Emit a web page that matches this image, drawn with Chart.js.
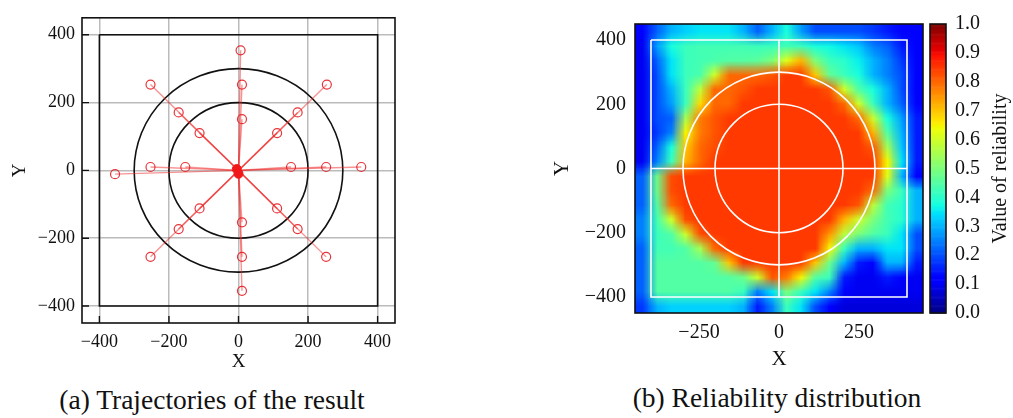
<!DOCTYPE html>
<html>
<head>
<meta charset="utf-8">
<script src="https://cdn.jsdelivr.net/npm/chart.js@4.4.1/dist/chart.umd.min.js"></script>
<style>
  html, body { margin: 0; padding: 0; background: #fff; }
  body { width: 1013px; height: 418px; position: relative; overflow: hidden;
         font-family: "Liberation Serif", "Times New Roman", serif; color: #111; }
  .box { position: absolute; }
  .caption { position: absolute; font-size: 27.5px; line-height: 1; white-space: nowrap; transform: translateX(-50%); }
</style>
</head>
<body>
<div class="box" style="left:0;top:0;width:420px;height:380px"><canvas id="traj"></canvas></div>
<div class="box" style="left:540px;top:0;width:390px;height:380px"><canvas id="heat"></canvas></div>
<div class="box" style="left:925px;top:0;width:88px;height:340px"><canvas id="cbar"></canvas></div>
<div class="caption" style="left:212px;top:386px">(a) Trajectories of the result</div>
<div class="caption" style="left:777px;top:384px">(b) Reliability distribution</div>

<script>
// ---- data ----
const axisTicks = [-400, -200, 0, 200, 400];
const heatXTicks = [-250, 0, 250];
const barTicks = [0, 0.1, 0.2, 0.3, 0.4, 0.5, 0.6, 0.7, 0.8, 0.9, 1.0];

// end points of the trajectories (hollow markers)
const targetX = [6, 10, 10, -253, -172, -112, 254, 170, 111, -355, -253, -153, 151, 252, 353, -112, -172, -253, 111, 170, 252, 10, 10, 10];
const targetY = [354, 253, 151, 253, 171, 110, 253, 171, 110, -11, 10, 10, 10, 10, 10, -112, -173, -255, -112, -173, -255, -153, -255, -355];
// filled start blobs at the centre
const hubX = [-5, 0];
const hubY = [4, -10];

// reference shapes
const squareX = [-400, 400, 400, -400, -400];
const squareY = [400, 400, -400, -400, 400];
const ringRadii = [200, 300];
const crossVX = [0, 0], crossVY = [-400, 400];
const crossHX = [-400, 400], crossHY = [0, 0];

// reliability map, rows from top (y=450) to bottom (y=-450), cols from x=-450 to 450
const heatRange = [-450, 450];
const reliability = [
  [0.12, 0.22, 0.30, 0.33, 0.35, 0.35, 0.35, 0.30, 0.22, 0.30, 0.38, 0.28, 0.20, 0.20, 0.20, 0.20, 0.18, 0.15, 0.12, 0.12],
  [0.10, 0.28, 0.38, 0.42, 0.43, 0.43, 0.43, 0.43, 0.42, 0.42, 0.43, 0.42, 0.38, 0.37, 0.35, 0.32, 0.25, 0.22, 0.15, 0.12],
  [0.10, 0.22, 0.35, 0.42, 0.43, 0.44, 0.45, 0.45, 0.46, 0.50, 0.62, 0.72, 0.50, 0.42, 0.40, 0.36, 0.30, 0.25, 0.18, 0.12],
  [0.10, 0.20, 0.35, 0.42, 0.44, 0.60, 0.80, 0.80, 0.80, 0.82, 0.85, 0.85, 0.70, 0.47, 0.42, 0.38, 0.30, 0.25, 0.20, 0.12],
  [0.10, 0.20, 0.30, 0.42, 0.58, 0.80, 0.80, 0.82, 0.85, 0.85, 0.85, 0.85, 0.85, 0.82, 0.60, 0.45, 0.38, 0.30, 0.20, 0.12],
  [0.10, 0.20, 0.28, 0.42, 0.68, 0.80, 0.80, 0.85, 0.85, 0.85, 0.85, 0.85, 0.85, 0.85, 0.80, 0.60, 0.42, 0.30, 0.22, 0.12],
  [0.10, 0.20, 0.22, 0.55, 0.78, 0.82, 0.85, 0.85, 0.85, 0.85, 0.85, 0.85, 0.85, 0.85, 0.85, 0.80, 0.60, 0.38, 0.28, 0.15],
  [0.10, 0.18, 0.25, 0.65, 0.78, 0.82, 0.85, 0.85, 0.85, 0.85, 0.85, 0.85, 0.85, 0.85, 0.85, 0.85, 0.72, 0.45, 0.30, 0.15],
  [0.10, 0.22, 0.38, 0.70, 0.80, 0.83, 0.85, 0.85, 0.85, 0.85, 0.85, 0.85, 0.85, 0.85, 0.85, 0.85, 0.82, 0.55, 0.32, 0.15],
  [0.10, 0.25, 0.42, 0.72, 0.80, 0.85, 0.85, 0.85, 0.85, 0.85, 0.85, 0.85, 0.85, 0.85, 0.85, 0.85, 0.85, 0.65, 0.35, 0.15],
  [0.22, 0.48, 0.83, 0.85, 0.85, 0.85, 0.85, 0.85, 0.85, 0.85, 0.85, 0.85, 0.85, 0.85, 0.85, 0.85, 0.85, 0.62, 0.30, 0.12],
  [0.22, 0.48, 0.83, 0.85, 0.85, 0.85, 0.85, 0.85, 0.85, 0.85, 0.85, 0.85, 0.85, 0.85, 0.85, 0.85, 0.80, 0.50, 0.42, 0.30],
  [0.22, 0.45, 0.80, 0.85, 0.85, 0.85, 0.85, 0.85, 0.85, 0.85, 0.85, 0.85, 0.85, 0.85, 0.85, 0.82, 0.58, 0.43, 0.40, 0.30],
  [0.25, 0.43, 0.60, 0.83, 0.85, 0.85, 0.85, 0.85, 0.85, 0.85, 0.85, 0.85, 0.85, 0.85, 0.72, 0.60, 0.50, 0.43, 0.40, 0.30],
  [0.25, 0.42, 0.45, 0.60, 0.83, 0.85, 0.85, 0.85, 0.85, 0.85, 0.85, 0.85, 0.85, 0.75, 0.58, 0.50, 0.45, 0.42, 0.35, 0.20],
  [0.22, 0.43, 0.43, 0.45, 0.55, 0.80, 0.85, 0.85, 0.85, 0.85, 0.85, 0.85, 0.85, 0.65, 0.42, 0.30, 0.30, 0.35, 0.35, 0.20],
  [0.22, 0.45, 0.45, 0.45, 0.45, 0.47, 0.70, 0.85, 0.85, 0.85, 0.85, 0.85, 0.70, 0.48, 0.30, 0.15, 0.12, 0.30, 0.30, 0.15],
  [0.22, 0.45, 0.45, 0.45, 0.45, 0.45, 0.45, 0.48, 0.60, 0.82, 0.78, 0.65, 0.45, 0.42, 0.15, 0.10, 0.10, 0.15, 0.12, 0.10],
  [0.22, 0.45, 0.45, 0.45, 0.45, 0.45, 0.45, 0.42, 0.25, 0.35, 0.50, 0.42, 0.35, 0.25, 0.12, 0.10, 0.10, 0.10, 0.10, 0.10],
  [0.18, 0.30, 0.33, 0.33, 0.33, 0.33, 0.33, 0.30, 0.15, 0.25, 0.42, 0.35, 0.20, 0.12, 0.08, 0.08, 0.08, 0.08, 0.08, 0.08],
];

// ---- helpers ----
const SERIF = "'Liberation Serif', 'Times New Roman', serif";
Chart.defaults.font.family = SERIF;
Chart.defaults.color = "#111";

const minus = (v) => (v < 0 ? "\u2212" + Math.abs(v) : String(v));
const pts = (xs, ys) => xs.map((x, i) => ({ x, y: ys[i] }));

// matplotlib "jet"
function seg(v, s) {
  for (let i = 1; i < s.length; i++) {
    if (v <= s[i][0]) {
      const [x0, y0] = s[i - 1], [x1, y1] = s[i];
      return y0 + (y1 - y0) * (v - x0) / (x1 - x0);
    }
  }
  return s[s.length - 1][1];
}
function jet(v) {
  v = Math.max(0, Math.min(1, v));
  const r = seg(v, [[0, 0], [0.35, 0], [0.66, 1], [0.89, 1], [1, 0.5]]);
  const g = seg(v, [[0, 0], [0.125, 0], [0.375, 1], [0.64, 1], [0.91, 0], [1, 0]]);
  const b = seg(v, [[0, 0.5], [0.11, 1], [0.34, 1], [0.65, 0], [1, 0]]);
  return [Math.round(r * 255), Math.round(g * 255), Math.round(b * 255)];
}

const framePlugin = {
  id: "frame",
  afterDraw(chart) {
    const { ctx, chartArea: a } = chart;
    ctx.save();
    ctx.strokeStyle = "#111";
    ctx.lineWidth = 1.6;
    ctx.strokeRect(a.left, a.top, a.right - a.left, a.bottom - a.top);
    ctx.restore();
  },
};

function ringsPlugin(color, when) {
  return {
    id: "rings",
    [when](chart) {
      const { ctx, scales: { x, y } } = chart;
      const cx = x.getPixelForValue(0), cy = y.getPixelForValue(0);
      ctx.save();
      ctx.strokeStyle = color;
      ctx.lineWidth = 1.6;
      ringRadii.forEach((r) => {
        ctx.beginPath();
        ctx.ellipse(cx, cy, Math.abs(x.getPixelForValue(r) - cx), Math.abs(y.getPixelForValue(r) - cy), 0, 0, Math.PI * 2);
        ctx.stroke();
      });
      ctx.restore();
    },
  };
}

// short tick marks pointing into the plot
const inTicksPlugin = {
  id: "inTicks",
  afterDatasetsDraw(chart) {
    const { ctx, chartArea: a, scales: { x, y } } = chart;
    ctx.save();
    ctx.strokeStyle = "#111";
    ctx.lineWidth = 1.4;
    ctx.beginPath();
    axisTicks.forEach((v) => {
      const px = x.getPixelForValue(v);
      ctx.moveTo(px, a.bottom); ctx.lineTo(px, a.bottom - 7);
      const py = y.getPixelForValue(v);
      ctx.moveTo(a.left, py); ctx.lineTo(a.left + 7, py);
    });
    ctx.stroke();
    ctx.restore();
  },
};

function fixedTicks(list) {
  return (scale) => { scale.ticks = list.map((v) => ({ value: v })); };
}

// ---- (a) trajectories ----
const trajSets = targetX.map((tx, i) => ({
  data: [{ x: 0, y: 0 }, { x: tx, y: targetY[i] }],
  showLine: true,
  borderColor: "rgba(240,40,40,0.5)",
  borderWidth: 1.4,
  pointRadius: [0, 4.5],
  pointBorderColor: "rgba(228,30,36,0.9)",
  pointBackgroundColor: "rgba(0,0,0,0)",
  pointBorderWidth: 1.2,
}));

new Chart(document.getElementById("traj"), {
  type: "scatter",
  data: {
    datasets: [
      { data: pts(hubX, hubY), pointRadius: 4.5, pointBackgroundColor: "#f01818", pointBorderColor: "#f01818" },
      ...trajSets,
      { data: pts(squareX, squareY), showLine: true, borderColor: "#111", borderWidth: 1.6, pointRadius: 0 },
    ],
  },
  options: {
    responsive: true, maintainAspectRatio: false, animation: false,
    layout: { padding: { left: 9, top: 10, right: 25, bottom: 7 } },
    plugins: { legend: { display: false }, tooltip: { enabled: false } },
    scales: {
      x: {
        type: "linear", min: -450, max: 450,
        afterBuildTicks: fixedTicks(axisTicks),
        afterFit: (s) => { s.height = 50; },
        grid: { color: "rgba(120,120,120,0.5)", lineWidth: 1.5, drawTicks: false },
        border: { display: false },
        ticks: { font: { size: 18 }, padding: 8, callback: minus },
        title: { display: true, text: "X", font: { size: 19 }, padding: 0 },
      },
      y: {
        type: "linear", min: -450, max: 450,
        afterBuildTicks: fixedTicks(axisTicks),
        afterFit: (s) => { s.width = 73; },
        grid: { color: "rgba(120,120,120,0.5)", lineWidth: 1.5, drawTicks: false },
        border: { display: false },
        ticks: { font: { size: 18 }, padding: 7, callback: minus },
        title: { display: true, text: "Y", font: { size: 19 }, padding: 0 },
      },
    },
  },
  plugins: [ringsPlugin("#111", "beforeDatasetsDraw"), inTicksPlugin, framePlugin],
});

// ---- (b) reliability distribution ----
const heatPlugin = {
  id: "heatmap",
  beforeDatasetsDraw(chart) {
    const { ctx, chartArea: a, scales: { x, y } } = chart;
    const rows = reliability.length, cols = reliability[0].length;
    const off = document.createElement("canvas");
    off.width = cols; off.height = rows;
    const octx = off.getContext("2d");
    const img = octx.createImageData(cols, rows);
    reliability.forEach((row, j) => row.forEach((v, i) => {
      const [r, g, b] = jet(v);
      const k = (j * cols + i) * 4;
      img.data[k] = r; img.data[k + 1] = g; img.data[k + 2] = b; img.data[k + 3] = 255;
    }));
    octx.putImageData(img, 0, 0);
    const left = x.getPixelForValue(heatRange[0]), right = x.getPixelForValue(heatRange[1]);
    const top = y.getPixelForValue(heatRange[1]), bottom = y.getPixelForValue(heatRange[0]);
    ctx.save();
    ctx.beginPath();
    ctx.rect(a.left, a.top, a.right - a.left, a.bottom - a.top);
    ctx.clip();
    ctx.imageSmoothingEnabled = true;
    ctx.drawImage(off, left, top, right - left, bottom - top);
    ctx.restore();
  },
};

const whiteLine = { showLine: true, borderColor: "#fff", borderWidth: 1.6, pointRadius: 0 };

new Chart(document.getElementById("heat"), {
  type: "scatter",
  data: {
    datasets: [
      { ...whiteLine, data: pts(squareX, squareY) },
      { ...whiteLine, data: pts(crossVX, crossVY) },
      { ...whiteLine, data: pts(crossHX, crossHY) },
    ],
  },
  options: {
    responsive: true, maintainAspectRatio: false, animation: false,
    layout: { padding: { left: 10, top: 24, right: 7, bottom: 8 } },
    plugins: { legend: { display: false }, tooltip: { enabled: false } },
    scales: {
      x: {
        type: "linear", min: heatRange[0], max: heatRange[1],
        afterBuildTicks: fixedTicks(heatXTicks),
        afterFit: (s) => { s.height = 59; },
        grid: { display: false, drawTicks: false }, border: { display: false },
        ticks: { font: { size: 20 }, padding: 8, callback: minus },
        title: { display: true, text: "X", font: { size: 21 }, padding: 0 },
      },
      y: {
        type: "linear", min: heatRange[0], max: heatRange[1],
        afterBuildTicks: fixedTicks(axisTicks),
        afterFit: (s) => { s.width = 85; },
        grid: { display: false, drawTicks: false }, border: { display: false },
        ticks: { font: { size: 20 }, padding: 9, callback: minus },
        title: { display: true, text: "Y", font: { size: 21 }, padding: 0 },
      },
    },
  },
  plugins: [heatPlugin, ringsPlugin("#fff", "afterDatasetsDraw"), framePlugin],
});

// ---- colour bar ----
const barPlugin = {
  id: "colorbar",
  beforeDatasetsDraw(chart) {
    const { ctx, chartArea: a, scales: { y } } = chart;
    const steps = 256;
    ctx.save();
    for (let s = 0; s < steps; s++) {
      const v0 = s / steps, v1 = (s + 1) / steps;
      const y0 = y.getPixelForValue(v0), y1 = y.getPixelForValue(v1);
      const [r, g, b] = jet((v0 + v1) / 2);
      ctx.fillStyle = `rgb(${r},${g},${b})`;
      ctx.fillRect(a.left, y1, a.right - a.left, y0 - y1 + 0.6);
    }
    ctx.restore();
  },
  afterDraw(chart) {
    const { ctx, chartArea: a } = chart;
    ctx.save();
    ctx.translate(76, (a.top + a.bottom) / 2);
    ctx.rotate(-Math.PI / 2);
    ctx.font = `20px ${SERIF}`;
    ctx.fillStyle = "#111";
    ctx.textAlign = "center";
    ctx.textBaseline = "middle";
    ctx.fillText("Value of reliability", 0, 0);
    ctx.restore();
  },
};

new Chart(document.getElementById("cbar"), {
  type: "scatter",
  data: { datasets: [] },
  options: {
    responsive: true, maintainAspectRatio: false, animation: false,
    layout: { padding: { left: 5, top: 24, right: 0, bottom: 27 } },
    plugins: { legend: { display: false }, tooltip: { enabled: false } },
    scales: {
      x: { display: false, min: 0, max: 1 },
      y: {
        type: "linear", position: "right", min: 0, max: 1,
        afterBuildTicks: fixedTicks(barTicks),
        afterFit: (s) => { s.width = 67; },
        grid: { display: false, drawTicks: false }, border: { display: false },
        ticks: { font: { size: 20 }, padding: 9, callback: (v) => v.toFixed(1) },
      },
    },
  },
  plugins: [barPlugin, framePlugin],
});
</script>
</body>
</html>
